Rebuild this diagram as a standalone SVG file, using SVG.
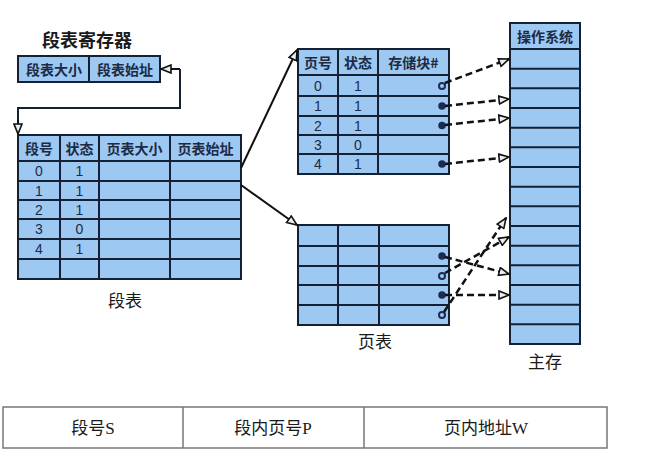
<svg xmlns="http://www.w3.org/2000/svg" width="648" height="459" viewBox="0 0 648 459">
<defs>
<style>
.cell{fill:#9dc8f2;stroke:#142033;stroke-width:2}
.ln{stroke:#142033;stroke-width:2;fill:none}
.hd{font-family:"Noto Sans CJK SC","Liberation Sans",sans-serif;font-weight:bold;font-size:14px;fill:#1c2a44;text-anchor:middle;dominant-baseline:central}
.num{font-family:"Liberation Sans","Noto Sans CJK SC",sans-serif;font-size:14px;fill:#1c2a44;text-anchor:middle;dominant-baseline:central}
.lbl{font-family:"Noto Sans CJK SC",sans-serif;font-size:17px;fill:#1a1a1a;text-anchor:middle;dominant-baseline:central}
.title{font-family:"Noto Sans CJK SC",sans-serif;font-weight:bold;font-size:18px;fill:#1a1a1a;text-anchor:middle;dominant-baseline:central}
.addr{font-family:"Liberation Serif","Noto Sans CJK SC",serif;font-size:17px;fill:#1a1a1a;text-anchor:middle;dominant-baseline:central}
.solid{stroke:#111;stroke-width:2;fill:none;marker-end:url(#ah)}
.dash{stroke:#111;stroke-width:2.5;stroke-dasharray:7 4;fill:none;marker-end:url(#ah)}
.dot{fill:#1c2a55;stroke:#1c2a55;stroke-width:1.5}
.odot{fill:#9dc8f2;stroke:#1c2a55;stroke-width:2}
</style>
<marker id="ah" viewBox="0 0 12 10" refX="11" refY="5" markerWidth="12" markerHeight="10" markerUnits="userSpaceOnUse" orient="auto">
<path d="M1,1 L11,5 L1,9 z" fill="#e6eef8" stroke="#111" stroke-width="1.6"/>
</marker>
</defs>
<rect width="648" height="459" fill="#ffffff"/>

<g id="seg-register">
<text class="title" x="87" y="39">段表寄存器</text>
<rect class="cell" x="18" y="56" width="71" height="26"/>
<rect class="cell" x="89" y="56" width="71" height="26"/>
<text class="hd" x="54" y="69">段表大小</text>
<text class="hd" x="125" y="69">段表始址</text>
</g>

<g id="seg-table">
<rect class="cell" x="18" y="135" width="223" height="144"/>
<path class="ln" d="M18,161 H241 M18,181 H241 M18,200 H241 M18,219 H241 M18,239 H241 M18,259 H241 M60,135 V279 M99,135 V279 M170,135 V279"/>
<text class="hd" x="39" y="148">段号</text>
<text class="hd" x="79.5" y="148">状态</text>
<text class="hd" x="134.5" y="148">页表大小</text>
<text class="hd" x="205.5" y="148">页表始址</text>
<text class="num" x="39" y="171">0</text><text class="num" x="79.5" y="171">1</text>
<text class="num" x="39" y="190.5">1</text><text class="num" x="79.5" y="190.5">1</text>
<text class="num" x="39" y="209.5">2</text><text class="num" x="79.5" y="209.5">1</text>
<text class="num" x="39" y="229">3</text><text class="num" x="79.5" y="229">0</text>
<text class="num" x="39" y="249">4</text><text class="num" x="79.5" y="249">1</text>
<text class="lbl" x="125" y="299">段表</text>
</g>

<g id="page-table-1">
<rect class="cell" x="298" y="49" width="151" height="125"/>
<path class="ln" d="M298,75 H449 M298,96 H449 M298,116 H449 M298,135 H449 M298,154 H449 M338,49 V174 M378,49 V174"/>
<text class="hd" x="318" y="62">页号</text>
<text class="hd" x="358" y="62">状态</text>
<text class="hd" x="413.5" y="62">存储块#</text>
<text class="num" x="318" y="85.5">0</text><text class="num" x="358" y="85.5">1</text>
<text class="num" x="318" y="106">1</text><text class="num" x="358" y="106">1</text>
<text class="num" x="318" y="125.5">2</text><text class="num" x="358" y="125.5">1</text>
<text class="num" x="318" y="144.5">3</text><text class="num" x="358" y="144.5">0</text>
<text class="num" x="318" y="164">4</text><text class="num" x="358" y="164">1</text>
<circle class="odot" cx="442" cy="86" r="3"/>
<circle class="dot" cx="442" cy="106" r="3"/>
<circle class="dot" cx="442" cy="125.5" r="3"/>
<circle class="dot" cx="442" cy="164" r="3"/>
</g>

<g id="page-table-2">
<rect class="cell" x="298" y="225" width="151" height="100"/>
<path class="ln" d="M298,246 H449 M298,266 H449 M298,285 H449 M298,305 H449 M338,225 V325 M379,225 V325"/>
<circle class="dot" cx="442" cy="256" r="3"/>
<circle class="odot" cx="442" cy="276" r="3"/>
<circle class="dot" cx="442" cy="295" r="3"/>
<circle class="odot" cx="442" cy="315" r="3"/>
<text class="lbl" x="375" y="340">页表</text>
</g>

<g id="main-memory">
<rect class="cell" x="510" y="23" width="70" height="321"/>
<path class="ln" d="M510,49 H580 M510,68.7 H580 M510,88.3 H580 M510,108 H580 M510,127.7 H580 M510,147.3 H580 M510,167 H580 M510,186.7 H580 M510,206.3 H580 M510,226 H580 M510,245.7 H580 M510,265.3 H580 M510,285 H580 M510,304.7 H580 M510,324.3 H580"/>
<text class="hd" x="545" y="36">操作系统</text>
<text class="lbl" x="545" y="360">主存</text>
</g>

<g id="address-format">
<rect x="3" y="407" width="604" height="41" fill="#ffffff" stroke="#777" stroke-width="1.5"/>
<path d="M183,407 V448 M364,407 V448" stroke="#777" stroke-width="1.5"/>
<text class="addr" x="93" y="428">段号S</text>
<text class="addr" x="273" y="428">段内页号P</text>
<text class="addr" x="486" y="428">页内地址W</text>
</g>

<g id="connectors">
<path class="solid" d="M180,69 H161"/>
<path class="ln" d="M180,69 V108 H18 V122"/>
<path class="solid" d="M18,120 V134"/>
<path class="solid" d="M241,168 L297,50"/>
<path class="solid" d="M241,185 L297,225"/>
<path class="dash" d="M445,83 L509,59"/>
<path class="dash" d="M445,106 L509,99"/>
<path class="dash" d="M445,125 L509,118"/>
<path class="dash" d="M445,164 L509,157"/>
<path class="dash" d="M445,257 L509,274"/>
<path class="dash" d="M445,273 L509,237"/>
<path class="dash" d="M445,295 L509,295"/>
<path class="dash" d="M444,312 L506,218"/>
</g>
</svg>
